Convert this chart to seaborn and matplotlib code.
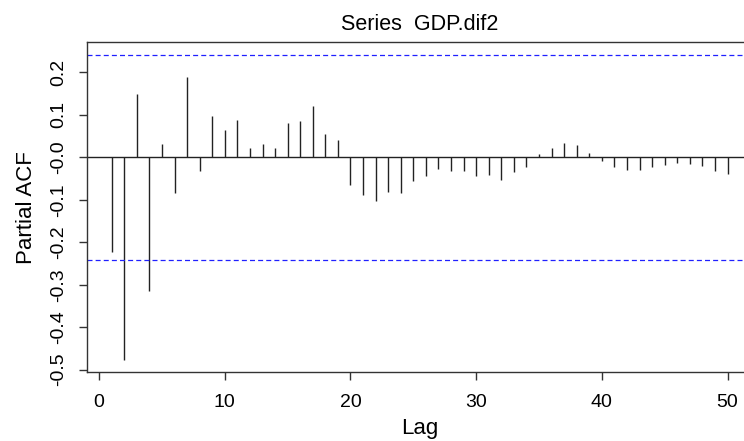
import numpy as np
import pandas as pd
import matplotlib
matplotlib.use("Agg")
import matplotlib.pyplot as plt
import seaborn as sns

# PACF values, lags 1..50
lags = list(range(1, 51))
pacf = [-0.223, -0.477, 0.149, -0.315, 0.032, -0.084, 0.189, -0.033, 0.097, 0.064,
        0.088, 0.023, 0.032, 0.023, 0.081, 0.085, 0.120, 0.055, 0.040, -0.064,
        -0.088, -0.102, -0.082, -0.085, -0.056, -0.045, -0.027, -0.031, -0.031, -0.045,
        -0.042, -0.053, -0.035, -0.023, 0.009, 0.023, 0.034, 0.030, 0.011, -0.009,
        -0.023, -0.029, -0.029, -0.023, -0.019, -0.014, -0.016, -0.021, -0.033, -0.039]
ci = 0.242
title = "Series  GDP.dif2"

df = pd.DataFrame({"Lag": lags, "PACF": pacf})

sns.set_style("ticks")
plt.rcParams["font.family"] = ["Liberation Sans", "DejaVu Sans"]
plt.rcParams["text.color"] = "black"
plt.rcParams["axes.labelcolor"] = "black"

fig = plt.figure(figsize=(7.44, 4.41), dpi=100)
ax = fig.add_axes([0.117, 0.156, 0.894, 0.748])

# stems
ax.vlines(df["Lag"], 0, df["PACF"], color="#222222", linewidth=1.0)
ax.axhline(0, color="#222222", linewidth=1.0)
# confidence bounds
for b in (ci, -ci):
    ax.axhline(b, color="#2020ff", linewidth=0.9, linestyle=(0, (4, 2.5)))

ax.set_xlim(-0.96, 51.96)
ax.set_ylim(-0.506, 0.271)
ax.set_xticks([0, 10, 20, 30, 40, 50])
yt = np.round(np.arange(-0.5, 0.21, 0.1), 1)
ax.set_yticks(yt)
ax.set_yticklabels([f"{v:.1f}" for v in yt], rotation=90, va="center")

ax.tick_params(axis="both", direction="out", length=6, width=1.0,
               color="#333333", labelsize=14, labelcolor="black")
ax.tick_params(axis="x", pad=10)
ax.tick_params(axis="y", pad=8)
for s in ax.spines.values():
    s.set_color("#333333")
    s.set_linewidth(1.0)

ax.set_xlabel("Lag", fontsize=16, labelpad=5)
ax.set_ylabel("Partial ACF", fontsize=16, labelpad=10)
ax.set_title(title, fontsize=15.5, pad=9, color="black")

fig.savefig("out.png", dpi=100)
